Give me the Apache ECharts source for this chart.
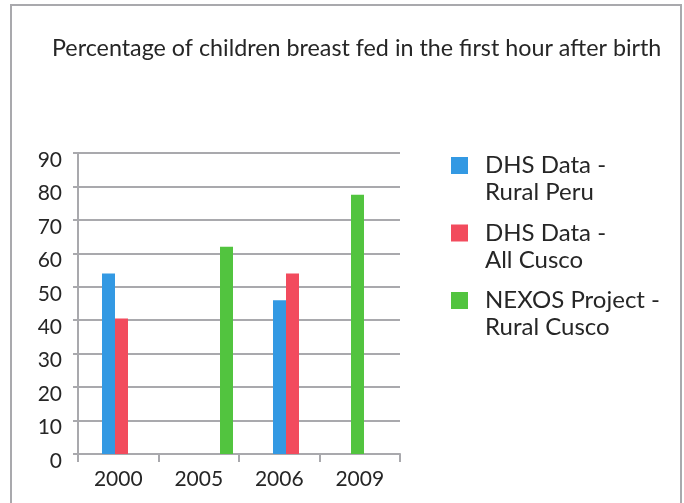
<!DOCTYPE html>
<html><head><meta charset="utf-8">
<script src="https://cdn.jsdelivr.net/npm/echarts@6/dist/echarts.min.js"></script>
<style>html,body{margin:0;padding:0;background:#fff}#c{width:684px;height:503px}</style>
</head><body><div id="c"></div>
<script>
const titleText = 'Percentage of children breast fed in the first hour after birth';
const categories = ['2000', '2005', '2006', '2009'];
const seriesNames = ['DHS Data - Rural Peru', 'DHS Data - All Cusco', 'NEXOS Project - Rural Cusco'];
const ruralPeru = [54, null, 46, null];
const allCusco = [40.5, null, 54, null];
const nexosRural = [null, 62, null, 77.5];
const yMin = 0, yMax = 90, yStep = 10;

const colors = ['#3399e3', '#f24b5d', '#52c43f'];
const gray = '#a9a9ad';
const textColor = '#262626';
const font = 'Lato';

const chart = echarts.init(document.getElementById('c'));
const valueAxisBase = { type: 'value', min: yMin, max: yMax, interval: yStep };
const hiddenY = gi => Object.assign({ gridIndex: gi, show: false, splitLine: { show: false } }, valueAxisBase);
const hiddenX = gi => ({ gridIndex: gi, type: 'category', data: categories, show: false });

chart.setOption({
  animation: false,
  backgroundColor: '#fff',
  graphic: [{
    type: 'rect', shape: { x: 11, y: 5, width: 670, height: 520 },
    style: { fill: 'none', stroke: gray, lineWidth: 2 }, z: 100
  }],
  title: {
    text: titleText, left: 52, top: 37, padding: 0,
    textStyle: { fontFamily: font, fontSize: 23.3, fontWeight: 'normal', color: textColor }
  },
  legend: {
    orient: 'vertical', left: 451, top: 125, itemGap: -13.5, padding: 0,
    itemWidth: 17, itemHeight: 17, icon: 'rect',
    formatter: n => '\n' + n.replace(' - ', ' -\n'),
    textStyle: { fontFamily: font, fontSize: 24, color: textColor, lineHeight: 27, padding: [0, 0, 0, 12] },
    data: seriesNames
  },
  grid: [
    { left: 78, top: 153, width: 322, height: 301 },      // visible axes & grid lines
    { left: 72.25, top: 153, width: 342, height: 301 },   // DHS bars
    { left: 128.25, top: 153, width: 262, height: 301 }   // NEXOS bars
  ],
  xAxis: [
    { gridIndex: 0, type: 'category', data: categories,
      axisLine: { show: true, lineStyle: { color: gray, width: 2 } },
      axisTick: { show: true, length: 8, lineStyle: { color: gray, width: 2 } },
      axisLabel: { fontFamily: font, fontSize: 21, color: textColor, margin: 15 } },
    hiddenX(1), hiddenX(2)
  ],
  yAxis: [
    Object.assign({ gridIndex: 0,
      axisLine: { show: true, lineStyle: { color: gray, width: 2 } },
      axisTick: { show: true, length: 5, lineStyle: { color: gray, width: 2 } },
      axisLabel: { fontFamily: font, fontSize: 21, color: textColor, margin: 16, verticalAlign: 'top', lineHeight: 14 },
      splitLine: { show: true, lineStyle: { color: gray, width: 2 } } }, valueAxisBase),
    hiddenY(1), hiddenY(2)
  ],
  series: [
    { name: seriesNames[0], type: 'bar', xAxisIndex: 1, yAxisIndex: 1, data: ruralPeru,
      barWidth: 13, barGap: '0%', itemStyle: { color: colors[0] } },
    { name: seriesNames[1], type: 'bar', xAxisIndex: 1, yAxisIndex: 1, data: allCusco,
      barWidth: 13, barGap: '0%', itemStyle: { color: colors[1] } },
    { name: seriesNames[2], type: 'bar', xAxisIndex: 2, yAxisIndex: 2, data: nexosRural,
      barWidth: 13, itemStyle: { color: colors[2] } }
  ]
});
</script></body></html>
